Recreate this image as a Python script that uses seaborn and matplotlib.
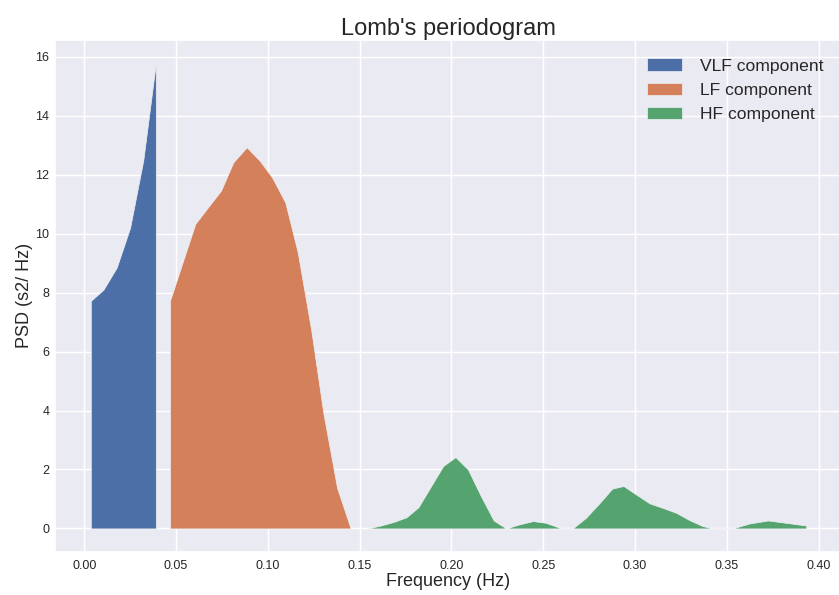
import matplotlib
matplotlib.use("Agg")
import matplotlib.pyplot as plt
import seaborn as sns

# VLF band (Hz, s2/Hz)
vlf_freq = [0.0036, 0.0105, 0.0177, 0.0250, 0.0322, 0.0390]
vlf_psd = [7.72, 8.10, 8.85, 10.20, 12.50, 15.78]

# LF band
lf_freq = [0.0467, 0.0537, 0.0605, 0.0675, 0.0745, 0.0812, 0.0885, 0.0955, 0.1023,
           0.1095, 0.1163, 0.1237, 0.1302, 0.1377, 0.1450]
lf_psd = [7.72, 9.05, 10.33, 10.90, 11.46, 12.42, 12.93, 12.48, 11.91,
          11.06, 9.36, 6.70, 3.93, 1.38, 0.02]

# HF band
hf_freq = [0.1544, 0.1615, 0.1685, 0.1755, 0.1820, 0.1955, 0.2022, 0.2090, 0.2160,
           0.2230, 0.2298, 0.2370, 0.2445, 0.2515, 0.2590, 0.2660, 0.2732, 0.2805,
           0.2875, 0.2937, 0.3006, 0.3079, 0.3150, 0.3224, 0.3297, 0.3368, 0.3424,
           0.3530, 0.3624, 0.3724, 0.3823, 0.3932]
hf_psd = [0.00, 0.10, 0.22, 0.38, 0.72, 2.12, 2.42, 2.00, 1.10,
          0.27, 0.00, 0.14, 0.25, 0.19, 0.02, 0.00, 0.36, 0.85,
          1.35, 1.44, 1.15, 0.85, 0.70, 0.53, 0.28, 0.08, 0.00,
          0.00, 0.17, 0.27, 0.19, 0.10]

sns.set_theme(style="darkgrid")
plt.rcParams['font.family'] = ['Liberation Sans', 'DejaVu Sans']
colors = ["#4c6fa7", "#d4805a", "#55a46f"]

fig = plt.figure(figsize=(8.39, 5.95), dpi=100)
ax = fig.add_axes([0.0656, 0.0728, 0.938, 0.86])

bands = [
    (vlf_freq, vlf_psd, "VLF component"),
    (lf_freq, lf_psd, "LF component"),
    (hf_freq, hf_psd, "HF component"),
]
for i, (f, p, name) in enumerate(bands):
    ax.fill_between(f, p, 0, color=colors[i], edgecolor="#f0f0f5", linewidth=0.5,
                    label=name)

ax.set_xticks([0.0, 0.05, 0.10, 0.15, 0.20, 0.25, 0.30, 0.35, 0.40])
ax.set_xticklabels(["0.00", "0.05", "0.10", "0.15", "0.20", "0.25", "0.30", "0.35", "0.40"])
ax.set_yticks(range(0, 17, 2))
ax.tick_params(axis="x", labelsize=9, pad=0)
ax.tick_params(axis="y", labelsize=9, pad=-2)

ax.set_title("Lomb's periodogram", fontsize=17, pad=3.5)
ax.set_xlabel("Frequency (Hz)", fontsize=13, labelpad=1)
ax.set_ylabel("PSD (s2/ Hz)", fontsize=13, labelpad=2)
ax.legend(loc="upper right", fontsize=12.6, frameon=False, borderaxespad=0.65,
          handletextpad=1.05, labelspacing=0.52)

fig.savefig("out.png", dpi=100)
